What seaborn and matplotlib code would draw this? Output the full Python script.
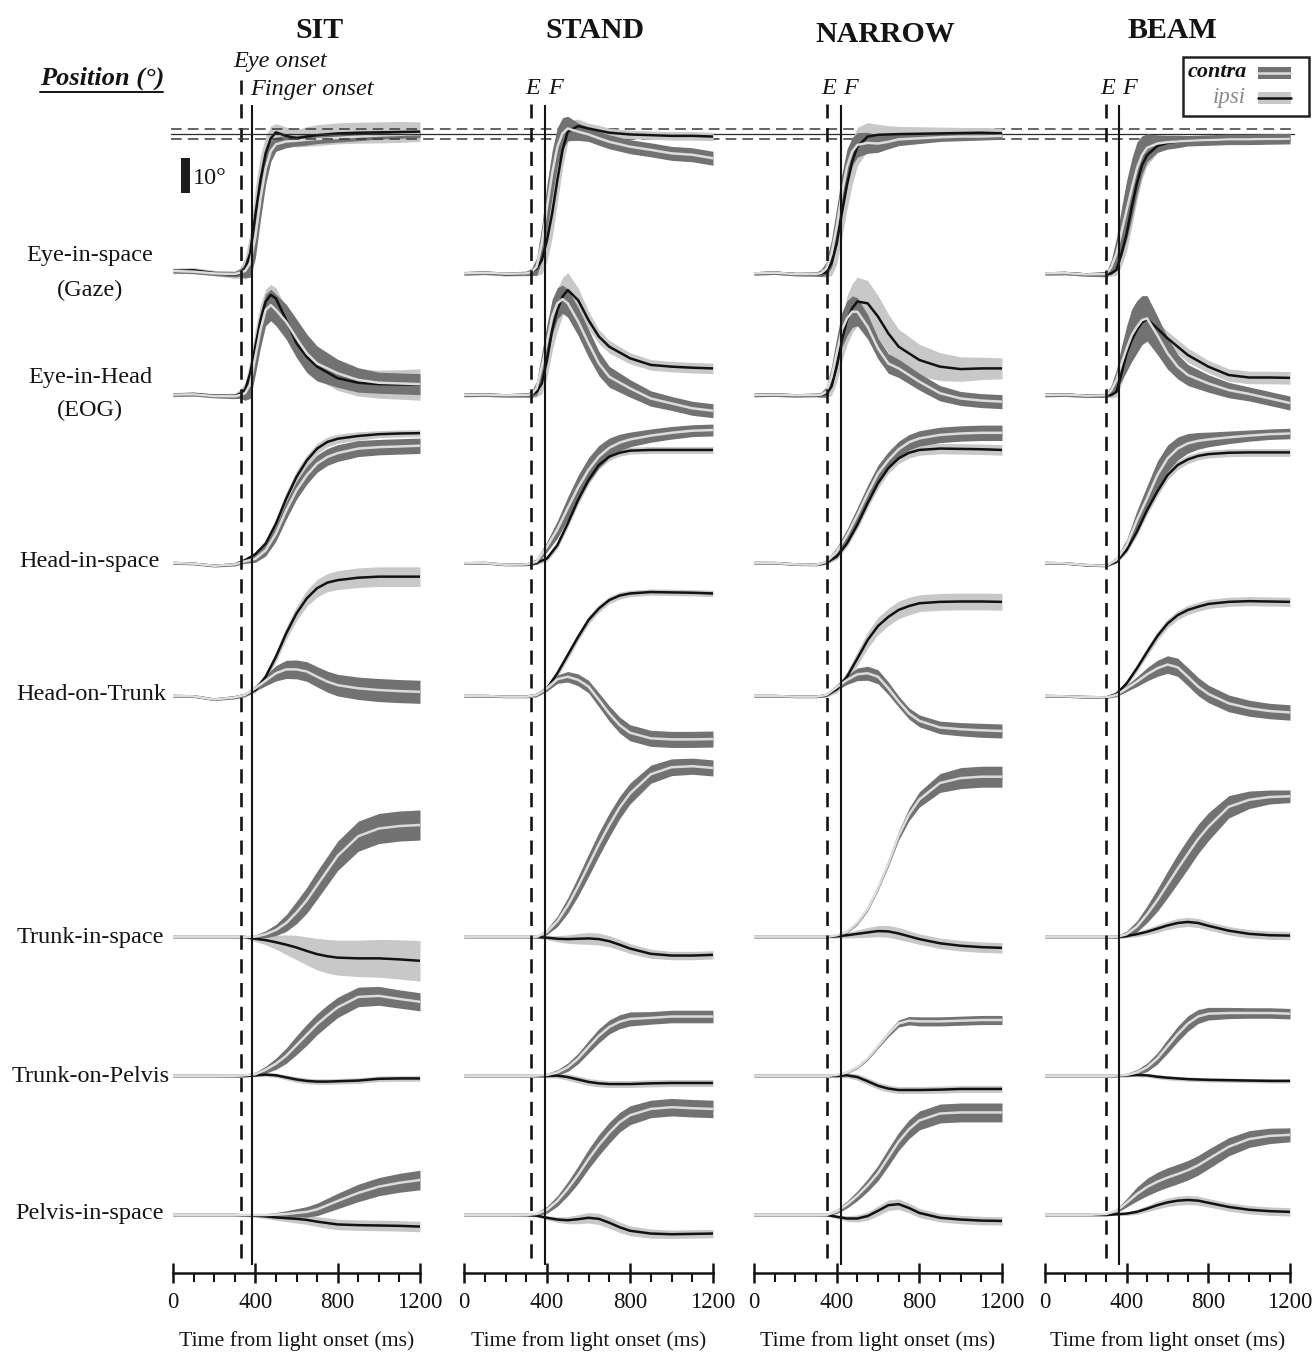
import numpy as np
import pandas as pd
import matplotlib
matplotlib.use("Agg")
import matplotlib.pyplot as plt
from matplotlib.patches import Rectangle
from matplotlib.lines import Line2D
import matplotlib.transforms as mtransforms
import seaborn as sns

# ---------------------------------------------------------------- data
COLUMNS = ["SIT", "STAND", "NARROW", "BEAM"]
ROW_NAMES = ["gaze", "eog", "head_space", "head_trunk",
             "trunk_space", "trunk_pelvis", "pelvis_space"]

# sample times (ms from light onset)
T_EYE = [0, 100, 200, 300, 325, 350, 375, 400, 425, 450, 475, 500,
         550, 600, 650, 700, 800, 900, 1000, 1100, 1200]
T_BODY = [0, 100, 200, 300, 350, 400, 450, 500, 550, 600, 650, 700,
          750, 800, 900, 1000, 1100, 1200]

EYE_ONSET = [330, 323, 355, 299]       # ms
FINGER_ONSET = [385, 390, 419, 364]    # ms
GAZE_TARGET = 39.5                     # deg
GAZE_TOLERANCE = 1.4                   # deg
SCALE_DEG = 10

# ---- SIT
SIT_GAZE_CONTRA = [0.3, 0.1, -0.4, -0.6, -0.2, 0.3, 2.5, 10.0, 21.0, 29.5, 34.5, 36.5, 37.3, 37.5, 37.8, 38.0, 38.3, 38.7, 39.0, 39.2, 39.4]
SIT_GAZE_CONTRA_SD = [0.6, 0.6, 0.6, 0.8, 1.0, 2.0, 4.0, 6.0, 6.0, 4.5, 3.0, 2.0, 1.8, 1.5, 1.5, 1.3, 1.2, 1.2, 1.0, 1.0, 1.0]
SIT_GAZE_IPSI = [0.3, 0.5, -0.3, -0.8, -0.3, 1.0, 5.3, 16.3, 26.3, 33.9, 38.2, 39.9, 38.9, 38.2, 38.7, 39.1, 39.6, 39.8, 39.9, 40.0, 40.1]
SIT_GAZE_IPSI_SD = [0.8, 0.8, 0.8, 1.0, 1.5, 3.0, 6.0, 8.0, 7.0, 5.0, 3.5, 2.5, 2.5, 2.5, 2.8, 3.0, 3.0, 3.0, 3.0, 3.0, 2.8]
SIT_EOG_CONTRA = [0.1, 0.2, -0.3, -0.4, 0.0, 0.5, 3.0, 10.9, 18.6, 24.3, 25.7, 24.3, 20.9, 16.2, 11.9, 9.0, 6.2, 4.3, 3.5, 3.3, 3.1]
SIT_EOG_CONTRA_SD = [0.5, 0.5, 0.5, 0.6, 1.0, 2.0, 4.0, 5.0, 5.0, 4.5, 4.5, 4.5, 5.0, 5.5, 5.5, 5.0, 4.0, 3.5, 3.0, 3.0, 3.0]
SIT_EOG_IPSI = [0.1, 0.3, -0.2, -0.3, 0.3, 1.4, 6.2, 13.8, 21.4, 26.7, 28.6, 27.6, 21.4, 14.8, 10.9, 8.1, 4.8, 3.5, 3.1, 3.0, 3.0]
SIT_EOG_IPSI_SD = [0.6, 0.6, 0.6, 0.8, 1.2, 2.0, 4.0, 5.0, 4.5, 3.5, 3.0, 3.0, 3.5, 3.5, 3.5, 3.5, 3.5, 3.8, 4.0, 4.2, 4.5]
SIT_HEAD_SPACE_CONTRA = [0.0, -0.2, -0.8, -0.4, 0.5, 1.2, 3.6, 8.4, 15.0, 20.8, 25.1, 28.4, 30.3, 31.4, 32.7, 33.1, 33.3, 33.5]
SIT_HEAD_SPACE_CONTRA_SD = [0.3, 0.3, 0.3, 0.4, 0.6, 1.0, 1.6, 2.2, 2.5, 2.6, 2.6, 2.5, 2.4, 2.4, 2.3, 2.2, 2.2, 2.2]
SIT_HEAD_SPACE_IPSI = [0.0, -0.2, -0.8, -0.4, 0.8, 2.5, 5.5, 11.2, 18.4, 24.6, 29.3, 32.7, 34.6, 35.5, 36.3, 36.8, 37.0, 37.1]
SIT_HEAD_SPACE_IPSI_SD = [0.4, 0.4, 0.4, 0.5, 0.6, 0.8, 1.2, 1.5, 1.8, 1.8, 1.6, 1.5, 1.4, 1.3, 1.2, 1.0, 1.0, 1.0]
SIT_HEAD_TRUNK_CONTRA = [0.0, -0.1, -1.0, -0.4, 0.3, 2.2, 4.4, 6.5, 7.6, 7.6, 7.0, 5.5, 4.1, 3.1, 2.2, 1.7, 1.4, 1.2]
SIT_HEAD_TRUNK_CONTRA_SD = [0.3, 0.3, 0.3, 0.4, 0.5, 0.8, 1.5, 2.2, 2.6, 2.7, 2.8, 2.9, 3.0, 3.1, 3.2, 3.3, 3.3, 3.3]
SIT_HEAD_TRUNK_IPSI = [0.0, -0.1, -1.0, -0.4, 0.3, 1.7, 5.5, 11.2, 17.9, 23.6, 27.9, 30.8, 32.4, 33.1, 33.8, 34.1, 34.1, 34.1]
SIT_HEAD_TRUNK_IPSI_SD = [0.3, 0.3, 0.3, 0.4, 0.5, 0.7, 1.0, 1.4, 1.8, 2.1, 2.3, 2.5, 2.6, 2.7, 2.8, 2.8, 2.8, 2.8]
SIT_TRUNK_SPACE_CONTRA = [0.0, 0.0, 0.0, 0.0, 0.0, 0.1, 0.8, 2.0, 4.0, 7.0, 10.5, 14.8, 19.0, 23.2, 28.8, 31.0, 31.7, 32.0]
SIT_TRUNK_SPACE_CONTRA_SD = [0.2, 0.2, 0.2, 0.2, 0.3, 0.5, 1.0, 1.6, 2.4, 3.2, 3.7, 4.0, 4.1, 4.2, 4.3, 4.3, 4.3, 4.3]
SIT_TRUNK_SPACE_IPSI = [0.0, 0.0, 0.0, 0.0, 0.0, -0.5, -0.9, -1.5, -2.2, -3.0, -4.0, -4.9, -5.5, -5.9, -6.1, -6.1, -6.4, -6.8]
SIT_TRUNK_SPACE_IPSI_SD = [0.3, 0.3, 0.3, 0.3, 0.4, 0.8, 1.3, 2.0, 2.8, 3.5, 4.0, 4.5, 4.8, 5.0, 5.2, 5.4, 5.6, 5.8]
SIT_TRUNK_PELVIS_CONTRA = [0.0, 0.0, 0.0, 0.0, 0.2, 0.5, 1.8, 3.5, 5.8, 8.8, 11.8, 14.8, 17.3, 19.6, 22.6, 22.9, 22.0, 21.2]
SIT_TRUNK_PELVIS_CONTRA_SD = [0.2, 0.2, 0.2, 0.3, 0.4, 0.6, 1.0, 1.6, 2.2, 2.7, 3.0, 3.0, 3.0, 2.9, 2.8, 2.7, 2.6, 2.6]
SIT_TRUNK_PELVIS_IPSI = [0.0, 0.0, 0.0, 0.0, 0.0, 0.2, 0.4, 0.2, -0.4, -1.0, -1.4, -1.6, -1.6, -1.5, -1.3, -0.8, -0.7, -0.7]
SIT_TRUNK_PELVIS_IPSI_SD = [0.3, 0.3, 0.3, 0.3, 0.3, 0.4, 0.5, 0.6, 0.7, 0.8, 0.8, 0.8, 0.8, 0.8, 0.8, 0.8, 0.8, 0.8]
SIT_PELVIS_SPACE_CONTRA = [0.0, 0.0, 0.0, 0.0, 0.0, 0.0, 0.0, 0.1, 0.3, 0.6, 0.9, 1.6, 2.8, 4.0, 6.3, 8.1, 9.2, 10.0]
SIT_PELVIS_SPACE_CONTRA_SD = [0.2, 0.2, 0.2, 0.2, 0.2, 0.3, 0.4, 0.6, 0.9, 1.2, 1.5, 1.8, 2.0, 2.2, 2.5, 2.6, 2.7, 2.8]
SIT_PELVIS_SPACE_IPSI = [0.0, 0.0, 0.0, 0.0, -0.1, -0.2, -0.4, -0.7, -0.9, -1.1, -1.4, -1.9, -2.3, -2.7, -2.9, -3.0, -3.1, -3.3]
SIT_PELVIS_SPACE_IPSI_SD = [0.3, 0.3, 0.3, 0.3, 0.3, 0.4, 0.6, 0.8, 1.0, 1.2, 1.3, 1.4, 1.5, 1.5, 1.5, 1.5, 1.5, 1.5]

# ---- STAND
STAND_GAZE_CONTRA = [-0.4, -0.2, -0.5, -0.4, 0.0, 1.5, 8.2, 18.6, 28.2, 35.8, 39.6, 41.0, 40.1, 39.3, 38.2, 37.2, 35.8, 34.9, 33.9, 33.5, 32.5]
STAND_GAZE_CONTRA_SD = [0.5, 0.5, 0.5, 0.6, 1.0, 2.5, 5.0, 6.5, 6.5, 5.5, 4.5, 3.5, 2.5, 2.0, 2.0, 2.0, 2.0, 2.0, 2.0, 2.0, 2.0]
STAND_GAZE_IPSI = [-0.4, -0.2, -0.6, -0.4, 0.1, 1.0, 3.4, 9.1, 16.8, 26.3, 34.9, 40.1, 41.7, 41.0, 40.4, 39.8, 39.3, 39.1, 38.9, 38.9, 38.7]
STAND_GAZE_IPSI_SD = [0.6, 0.6, 0.6, 0.7, 1.0, 2.0, 4.0, 6.0, 7.0, 6.5, 5.0, 3.0, 2.0, 1.5, 1.5, 1.3, 1.2, 1.2, 1.2, 1.2, 1.2]
STAND_EOG_CONTRA = [0.0, 0.1, -0.1, 0.0, 0.2, 1.9, 8.1, 15.2, 22.4, 26.2, 27.4, 26.2, 21.0, 14.8, 9.0, 5.2, 1.9, -1.0, -2.4, -3.8, -4.5]
STAND_EOG_CONTRA_SD = [0.5, 0.5, 0.5, 0.6, 0.8, 2.0, 4.0, 5.0, 5.0, 4.5, 4.0, 4.0, 4.0, 4.0, 3.5, 3.0, 2.5, 2.2, 2.0, 2.0, 2.0]
STAND_EOG_IPSI = [0.0, 0.1, -0.1, 0.0, 0.1, 0.9, 3.3, 10.0, 18.6, 24.3, 28.1, 30.0, 27.1, 21.4, 16.7, 13.8, 10.5, 8.6, 8.1, 7.8, 7.6]
STAND_EOG_IPSI_SD = [0.5, 0.5, 0.5, 0.6, 0.8, 1.5, 3.0, 5.0, 6.0, 6.0, 5.5, 5.0, 3.5, 2.5, 2.0, 1.8, 1.6, 1.5, 1.5, 1.5, 1.5]
STAND_HEAD_SPACE_CONTRA = [-0.1, 0.0, -0.5, -0.4, 0.4, 4.7, 9.6, 15.7, 21.6, 26.6, 30.4, 32.9, 34.4, 35.3, 36.4, 37.2, 37.8, 38.0]
STAND_HEAD_SPACE_CONTRA_SD = [0.3, 0.3, 0.3, 0.4, 0.8, 1.5, 2.5, 3.2, 3.5, 3.5, 3.2, 2.8, 2.4, 2.1, 1.9, 1.8, 1.7, 1.7]
STAND_HEAD_SPACE_IPSI = [-0.1, 0.0, -0.5, -0.4, 0.0, 1.3, 5.1, 11.3, 18.0, 23.7, 28.0, 30.4, 31.5, 32.1, 32.3, 32.3, 32.3, 32.3]
STAND_HEAD_SPACE_IPSI_SD = [0.3, 0.3, 0.3, 0.3, 0.5, 0.8, 1.0, 1.2, 1.3, 1.3, 1.2, 1.1, 1.0, 1.0, 1.0, 1.0, 1.0, 1.0]
STAND_HEAD_TRUNK_CONTRA = [0.0, 0.0, -0.2, -0.2, 0.3, 2.2, 4.8, 5.5, 4.6, 2.7, -1.1, -5.0, -8.3, -10.5, -12.1, -12.4, -12.4, -12.3]
STAND_HEAD_TRUNK_CONTRA_SD = [0.3, 0.3, 0.3, 0.3, 0.5, 0.8, 1.2, 1.5, 1.7, 1.8, 2.0, 2.2, 2.3, 2.3, 2.3, 2.3, 2.3, 2.3]
STAND_HEAD_TRUNK_IPSI = [0.0, 0.0, -0.2, -0.2, 0.3, 2.2, 6.5, 11.7, 16.9, 21.7, 25.0, 27.4, 28.7, 29.3, 29.7, 29.6, 29.5, 29.3]
STAND_HEAD_TRUNK_IPSI_SD = [0.3, 0.3, 0.3, 0.3, 0.5, 0.8, 1.0, 1.2, 1.2, 1.2, 1.1, 1.0, 1.0, 0.9, 0.9, 0.9, 0.9, 0.9]
STAND_TRUNK_SPACE_CONTRA = [0.0, 0.0, 0.0, 0.0, 0.0, 1.5, 4.5, 9.0, 14.5, 20.5, 26.5, 32.0, 37.0, 41.0, 46.5, 48.5, 48.8, 48.3]
STAND_TRUNK_SPACE_CONTRA_SD = [0.2, 0.2, 0.2, 0.2, 0.4, 0.8, 1.5, 2.2, 2.8, 3.2, 3.4, 3.4, 3.2, 3.0, 2.6, 2.4, 2.3, 2.3]
STAND_TRUNK_SPACE_IPSI = [0.0, 0.0, 0.0, 0.0, 0.0, -0.2, -0.5, -0.6, -0.5, -0.4, -0.6, -1.2, -2.2, -3.3, -4.8, -5.3, -5.3, -5.1]
STAND_TRUNK_SPACE_IPSI_SD = [0.3, 0.3, 0.3, 0.3, 0.4, 0.6, 0.9, 1.2, 1.5, 1.7, 1.7, 1.6, 1.5, 1.4, 1.3, 1.2, 1.2, 1.2]
STAND_TRUNK_PELVIS_CONTRA = [0.0, 0.0, 0.0, 0.0, 0.1, 0.3, 1.0, 2.5, 5.0, 8.3, 11.5, 14.0, 15.5, 16.3, 16.6, 17.0, 17.0, 17.0]
STAND_TRUNK_PELVIS_CONTRA_SD = [0.2, 0.2, 0.2, 0.2, 0.3, 0.5, 0.8, 1.2, 1.5, 1.8, 2.0, 2.0, 2.0, 2.0, 1.8, 1.8, 1.8, 1.8]
STAND_TRUNK_PELVIS_IPSI = [0.0, 0.0, 0.0, 0.0, 0.0, 0.0, 0.1, -0.3, -1.0, -1.7, -2.1, -2.3, -2.3, -2.3, -2.1, -2.0, -2.0, -2.0]
STAND_TRUNK_PELVIS_IPSI_SD = [0.3, 0.3, 0.3, 0.3, 0.3, 0.5, 0.7, 0.9, 1.0, 1.0, 1.0, 1.0, 1.0, 1.0, 1.0, 1.0, 1.0, 1.0]
STAND_PELVIS_SPACE_CONTRA = [0.0, 0.0, 0.0, 0.0, 0.3, 1.5, 4.0, 7.5, 11.5, 16.0, 20.0, 23.5, 26.5, 28.5, 30.3, 30.8, 30.5, 30.3]
STAND_PELVIS_SPACE_CONTRA_SD = [0.2, 0.2, 0.2, 0.3, 0.5, 1.0, 1.5, 2.0, 2.5, 2.8, 3.0, 3.0, 2.8, 2.7, 2.5, 2.5, 2.5, 2.5]
STAND_PELVIS_SPACE_IPSI = [0.0, 0.0, 0.0, 0.0, -0.2, -0.8, -1.3, -1.5, -1.2, -0.8, -1.1, -2.2, -3.5, -4.5, -5.3, -5.5, -5.4, -5.3]
STAND_PELVIS_SPACE_IPSI_SD = [0.3, 0.3, 0.3, 0.3, 0.4, 0.6, 0.8, 1.0, 1.3, 1.5, 1.6, 1.6, 1.5, 1.4, 1.3, 1.2, 1.2, 1.2]

# ---- NARROW
NARROW_GAZE_CONTRA = [-0.4, -0.2, -0.6, -0.6, -0.3, 1.0, 5.3, 12.9, 22.4, 30.1, 34.4, 36.3, 36.9, 36.7, 37.2, 37.9, 38.2, 38.5, 38.7, 38.7, 38.9]
NARROW_GAZE_CONTRA_SD = [0.5, 0.5, 0.5, 0.6, 1.0, 2.0, 4.0, 5.5, 5.5, 5.0, 4.0, 3.5, 3.0, 2.5, 2.0, 1.8, 1.5, 1.2, 1.2, 1.0, 1.0]
NARROW_GAZE_IPSI = [-0.4, -0.2, -0.6, -0.6, -0.5, -0.1, 2.5, 8.1, 16.8, 24.9, 31.5, 35.8, 38.7, 39.2, 39.3, 39.4, 39.5, 39.6, 39.7, 39.8, 39.6]
NARROW_GAZE_IPSI_SD = [0.5, 0.5, 0.5, 0.6, 0.8, 1.5, 3.5, 6.0, 7.0, 7.0, 6.5, 5.5, 4.0, 3.0, 2.5, 2.2, 2.0, 1.8, 1.6, 1.5, 1.5]
NARROW_EOG_CONTRA = [0.0, 0.1, -0.1, 0.0, 0.1, 0.9, 5.2, 11.9, 18.6, 21.9, 23.8, 23.8, 19.5, 13.3, 9.0, 7.6, 3.8, 0.5, -1.0, -1.6, -1.9]
NARROW_EOG_CONTRA_SD = [0.5, 0.5, 0.5, 0.5, 0.7, 1.5, 3.0, 4.5, 5.0, 5.0, 4.5, 4.0, 3.5, 3.0, 2.8, 2.6, 2.4, 2.2, 2.0, 2.0, 2.0]
NARROW_EOG_IPSI = [0.0, 0.1, -0.1, 0.0, 0.0, 0.5, 2.4, 8.1, 15.7, 21.4, 24.8, 26.7, 26.2, 22.4, 17.6, 13.8, 10.0, 8.1, 7.4, 7.6, 7.6]
NARROW_EOG_IPSI_SD = [0.5, 0.5, 0.5, 0.5, 0.7, 1.2, 2.5, 4.5, 6.0, 7.0, 7.0, 7.0, 6.5, 6.0, 5.5, 5.0, 4.5, 4.0, 3.5, 3.2, 3.0]
NARROW_HEAD_SPACE_CONTRA = [0.0, 0.0, -0.4, -0.5, 0.3, 3.2, 7.9, 13.7, 19.9, 25.6, 29.4, 32.5, 34.5, 35.6, 36.6, 37.0, 37.2, 37.2]
NARROW_HEAD_SPACE_CONTRA_SD = [0.3, 0.3, 0.3, 0.3, 0.6, 1.2, 1.8, 2.2, 2.4, 2.4, 2.4, 2.3, 2.2, 2.2, 2.2, 2.2, 2.2, 2.2]
NARROW_HEAD_SPACE_IPSI = [0.0, 0.0, -0.4, -0.5, 0.1, 1.8, 5.6, 10.9, 17.1, 22.8, 27.1, 29.9, 31.5, 32.3, 32.7, 32.6, 32.5, 32.3]
NARROW_HEAD_SPACE_IPSI_SD = [0.3, 0.3, 0.3, 0.3, 0.5, 0.8, 1.0, 1.2, 1.4, 1.5, 1.5, 1.5, 1.5, 1.5, 1.5, 1.5, 1.5, 1.5]
NARROW_HEAD_TRUNK_CONTRA = [0.0, 0.0, -0.2, -0.2, 0.3, 2.5, 4.6, 6.2, 6.5, 5.5, 2.2, -1.6, -5.0, -7.1, -9.0, -9.5, -9.8, -10.0]
NARROW_HEAD_TRUNK_CONTRA_SD = [0.3, 0.3, 0.3, 0.3, 0.5, 0.8, 1.3, 1.8, 2.0, 2.0, 1.8, 1.6, 1.6, 1.7, 1.8, 1.9, 2.0, 2.0]
NARROW_HEAD_TRUNK_IPSI = [0.0, 0.0, -0.2, -0.2, 0.2, 1.9, 5.5, 10.7, 16.0, 20.0, 22.6, 24.6, 25.7, 26.5, 26.9, 27.0, 27.0, 26.9]
NARROW_HEAD_TRUNK_IPSI_SD = [0.3, 0.3, 0.3, 0.3, 0.5, 1.0, 1.5, 2.0, 2.3, 2.5, 2.5, 2.5, 2.5, 2.4, 2.4, 2.4, 2.4, 2.4]
NARROW_TRUNK_SPACE_CONTRA = [0.0, 0.0, 0.0, 0.0, 0.0, 0.5, 1.5, 4.0, 8.0, 14.0, 21.0, 29.0, 35.0, 39.3, 44.0, 45.4, 45.8, 45.8]
NARROW_TRUNK_SPACE_CONTRA_SD = [0.2, 0.2, 0.2, 0.2, 0.2, 0.3, 0.4, 0.5, 0.6, 0.7, 0.9, 1.3, 1.8, 2.2, 2.7, 3.0, 3.0, 3.0]
NARROW_TRUNK_SPACE_IPSI = [0.0, 0.0, 0.0, 0.0, 0.0, 0.2, 0.5, 0.9, 1.3, 1.7, 1.6, 1.0, 0.2, -0.6, -1.8, -2.5, -2.9, -3.1]
NARROW_TRUNK_SPACE_IPSI_SD = [0.3, 0.3, 0.3, 0.3, 0.3, 0.5, 0.8, 1.1, 1.4, 1.6, 1.7, 1.7, 1.6, 1.5, 1.5, 1.5, 1.5, 1.5]
NARROW_TRUNK_PELVIS_CONTRA = [0.0, 0.0, 0.0, 0.0, 0.0, 0.3, 1.0, 2.5, 5.0, 8.5, 12.0, 15.0, 15.8, 15.6, 15.6, 15.8, 16.0, 16.0]
NARROW_TRUNK_PELVIS_CONTRA_SD = [0.2, 0.2, 0.2, 0.2, 0.2, 0.3, 0.3, 0.4, 0.5, 0.6, 0.8, 1.0, 1.2, 1.3, 1.3, 1.3, 1.3, 1.3]
NARROW_TRUNK_PELVIS_IPSI = [0.0, 0.0, 0.0, 0.0, 0.0, 0.0, 0.2, -0.3, -1.5, -2.8, -3.6, -4.0, -4.0, -4.0, -3.9, -3.7, -3.7, -3.7]
NARROW_TRUNK_PELVIS_IPSI_SD = [0.3, 0.3, 0.3, 0.3, 0.3, 0.5, 0.7, 0.9, 1.0, 1.0, 1.0, 1.0, 1.0, 1.0, 1.0, 1.0, 1.0, 1.0]
NARROW_PELVIS_SPACE_CONTRA = [0.0, 0.0, 0.0, 0.0, 0.0, 1.0, 3.0, 5.5, 8.5, 12.0, 16.5, 21.0, 24.5, 27.0, 29.0, 29.3, 29.3, 29.3]
NARROW_PELVIS_SPACE_CONTRA_SD = [0.2, 0.2, 0.2, 0.2, 0.3, 0.6, 1.0, 1.4, 1.8, 2.2, 2.5, 2.6, 2.7, 2.7, 2.7, 2.7, 2.7, 2.7]
NARROW_PELVIS_SPACE_IPSI = [0.0, 0.0, 0.0, 0.0, 0.0, -0.5, -1.0, -1.0, -0.3, 1.2, 2.8, 3.1, 2.0, 0.6, -0.8, -1.3, -1.6, -1.7]
NARROW_PELVIS_SPACE_IPSI_SD = [0.3, 0.3, 0.3, 0.3, 0.3, 0.5, 0.8, 1.0, 1.2, 1.4, 1.5, 1.5, 1.4, 1.3, 1.2, 1.2, 1.2, 1.2]

# ---- BEAM
BEAM_GAZE_CONTRA = [-0.4, -0.3, -0.7, -0.6, 1.5, 5.3, 11.5, 17.7, 23.9, 29.6, 33.4, 35.5, 36.7, 37.1, 37.3, 37.5, 37.7, 37.9, 37.9, 38.0, 38.1]
BEAM_GAZE_CONTRA_SD = [0.5, 0.5, 0.5, 0.8, 2.0, 4.5, 7.0, 8.5, 8.5, 7.5, 5.5, 4.0, 2.5, 2.0, 1.8, 1.5, 1.5, 1.5, 1.5, 1.5, 1.5]
BEAM_GAZE_IPSI = [-0.4, -0.3, -0.7, -0.6, -0.4, 0.6, 5.3, 11.0, 18.6, 25.3, 30.5, 33.4, 36.0, 36.9, 37.3, 37.5, 37.7, 37.9, 37.9, 38.0, 38.2]
BEAM_GAZE_IPSI_SD = [0.5, 0.5, 0.5, 0.6, 0.8, 1.5, 3.5, 5.0, 5.5, 5.0, 4.0, 3.0, 2.0, 1.5, 1.3, 1.2, 1.2, 1.2, 1.2, 1.2, 1.2]
BEAM_EOG_CONTRA = [0.0, 0.1, -0.2, -0.1, 1.4, 4.3, 9.0, 13.3, 17.1, 19.5, 21.4, 21.9, 17.1, 11.9, 8.1, 5.7, 3.3, 1.4, 0.3, -1.0, -2.3]
BEAM_EOG_CONTRA_SD = [0.5, 0.5, 0.5, 0.6, 1.5, 3.0, 5.0, 6.5, 7.5, 7.5, 7.0, 6.5, 5.5, 4.5, 3.5, 3.0, 2.5, 2.2, 2.0, 2.0, 2.0]
BEAM_EOG_IPSI = [0.0, 0.1, -0.2, -0.1, 0.0, 0.9, 6.2, 11.9, 15.7, 18.6, 20.7, 21.7, 19.0, 16.2, 13.8, 11.4, 8.1, 5.7, 5.0, 5.0, 4.9]
BEAM_EOG_IPSI_SD = [0.5, 0.5, 0.5, 0.6, 0.8, 1.5, 3.0, 4.0, 4.0, 3.5, 3.0, 2.5, 2.0, 2.0, 2.0, 2.0, 1.8, 1.8, 1.8, 1.8, 1.8]
BEAM_HEAD_SPACE_CONTRA = [0.0, -0.1, -0.6, -0.8, 0.9, 5.1, 12.2, 18.5, 25.1, 29.9, 32.7, 34.2, 34.9, 35.3, 35.9, 36.4, 36.8, 37.0]
BEAM_HEAD_SPACE_CONTRA_SD = [0.3, 0.3, 0.3, 0.3, 0.8, 1.6, 2.8, 3.6, 4.0, 3.8, 3.3, 2.8, 2.4, 2.1, 1.8, 1.6, 1.5, 1.5]
BEAM_HEAD_SPACE_IPSI = [0.0, -0.1, -0.6, -0.8, 0.4, 3.7, 8.9, 15.1, 20.4, 25.1, 28.0, 29.6, 30.6, 31.1, 31.5, 31.6, 31.6, 31.6]
BEAM_HEAD_SPACE_IPSI_SD = [0.3, 0.3, 0.3, 0.3, 0.5, 0.8, 1.1, 1.3, 1.4, 1.4, 1.3, 1.2, 1.1, 1.1, 1.1, 1.1, 1.1, 1.1]
BEAM_HEAD_TRUNK_CONTRA = [0.0, -0.1, -0.3, -0.4, 0.3, 2.2, 4.1, 6.2, 7.9, 9.0, 8.2, 5.5, 2.7, 0.6, -2.1, -3.5, -4.3, -4.7]
BEAM_HEAD_TRUNK_CONTRA_SD = [0.3, 0.3, 0.3, 0.3, 0.5, 0.9, 1.4, 1.9, 2.3, 2.5, 2.6, 2.6, 2.6, 2.5, 2.4, 2.3, 2.2, 2.2]
BEAM_HEAD_TRUNK_IPSI = [0.0, -0.1, -0.3, -0.4, 0.6, 3.6, 7.9, 12.6, 17.1, 20.7, 23.1, 24.6, 25.5, 26.3, 26.9, 27.1, 27.0, 26.9]
BEAM_HEAD_TRUNK_IPSI_SD = [0.3, 0.3, 0.3, 0.3, 0.5, 0.8, 1.0, 1.2, 1.3, 1.3, 1.3, 1.3, 1.3, 1.3, 1.3, 1.3, 1.3, 1.3]
BEAM_TRUNK_SPACE_CONTRA = [0.0, 0.0, 0.0, 0.0, 0.0, 0.8, 3.0, 6.5, 10.5, 15.0, 19.5, 23.8, 28.0, 31.5, 37.2, 39.2, 40.0, 40.2]
BEAM_TRUNK_SPACE_CONTRA_SD = [0.2, 0.2, 0.2, 0.2, 0.4, 0.9, 1.6, 2.4, 3.2, 3.8, 4.2, 4.3, 4.2, 4.0, 3.2, 2.5, 2.0, 1.8]
BEAM_TRUNK_SPACE_IPSI = [0.0, 0.0, 0.0, 0.0, 0.0, 0.3, 0.8, 1.5, 2.4, 3.3, 4.0, 4.3, 4.0, 3.2, 1.8, 0.9, 0.5, 0.4]
BEAM_TRUNK_SPACE_IPSI_SD = [0.3, 0.3, 0.3, 0.3, 0.3, 0.5, 0.7, 0.9, 1.1, 1.2, 1.3, 1.3, 1.3, 1.2, 1.2, 1.2, 1.2, 1.2]
BEAM_TRUNK_PELVIS_CONTRA = [0.0, 0.0, 0.0, 0.0, 0.1, 0.3, 1.0, 2.5, 5.0, 8.5, 12.0, 15.0, 17.0, 17.8, 18.0, 18.0, 18.0, 17.8]
BEAM_TRUNK_PELVIS_CONTRA_SD = [0.2, 0.2, 0.2, 0.2, 0.3, 0.5, 0.8, 1.2, 1.6, 2.0, 2.2, 2.2, 2.0, 1.8, 1.6, 1.5, 1.5, 1.5]
BEAM_TRUNK_PELVIS_IPSI = [0.0, 0.0, 0.0, 0.0, 0.0, 0.2, 0.3, 0.2, -0.2, -0.5, -0.7, -0.9, -1.0, -1.1, -1.2, -1.3, -1.4, -1.4]
BEAM_TRUNK_PELVIS_IPSI_SD = [0.3, 0.3, 0.3, 0.3, 0.3, 0.4, 0.5, 0.5, 0.6, 0.6, 0.6, 0.6, 0.6, 0.6, 0.6, 0.6, 0.6, 0.6]
BEAM_PELVIS_SPACE_CONTRA = [0.0, 0.0, 0.0, 0.3, 1.2, 3.5, 6.0, 8.0, 9.5, 10.7, 11.7, 12.8, 14.2, 16.0, 19.5, 21.7, 22.6, 22.9]
BEAM_PELVIS_SPACE_CONTRA_SD = [0.2, 0.2, 0.2, 0.3, 0.6, 1.2, 2.0, 2.5, 2.7, 2.8, 2.8, 2.8, 2.8, 2.8, 2.6, 2.4, 2.2, 2.0]
BEAM_PELVIS_SPACE_IPSI = [0.0, 0.0, 0.0, 0.0, 0.2, 0.4, 0.9, 1.8, 2.8, 3.6, 4.1, 4.3, 4.1, 3.5, 2.3, 1.5, 1.1, 0.9]
BEAM_PELVIS_SPACE_IPSI_SD = [0.3, 0.3, 0.3, 0.3, 0.3, 0.5, 0.7, 0.9, 1.1, 1.2, 1.3, 1.3, 1.3, 1.2, 1.2, 1.2, 1.2, 1.2]

ROW_LABELS = [["Eye-in-space", "(Gaze)"], ["Eye-in-Head", "(EOG)"],
              ["Head-in-space"], ["Head-on-Trunk"], ["Trunk-in-space"],
              ["Trunk-on-Pelvis"], ["Pelvis-in-space"]]
MAJOR_TICKS = [0, 400, 800, 1200]
MINOR_TICKS = [100, 200, 300, 500, 600, 700, 900, 1000, 1100]

# lookup table of (contra mean, contra sd, ipsi mean, ipsi sd) per panel/row
_g = globals()
TRACES = {
    (col, row): tuple(_g[f"{col}_{row.upper()}_{side}"]
                      for side in ("CONTRA", "CONTRA_SD", "IPSI", "IPSI_SD"))
    for col in COLUMNS for row in ROW_NAMES
}

# ---------------------------------------------------------------- style
W, H = 1316, 1353
sns.set_theme(style="white")
plt.rcParams["font.family"] = ["Liberation Serif", "DejaVu Serif"]
plt.rcParams["axes.unicode_minus"] = False

CONTRA_BAND = "#727272"
CONTRA_LINE = "#dcdcdc"
IPSI_BAND = "#c8c8c8"
IPSI_LINE = "#121212"
INK = "#141414"
FS_LABEL = 17.5

AX_TOP, AX_BOTTOM = 60, 1273           # pixel rows of the panel area
PX_PER_DEG = 3.5
Y_MAX = (AX_BOTTOM - AX_TOP) / PX_PER_DEG
COL_PX = [(173, 420), (464, 713), (754, 1002), (1045, 1290)]
ROW_PX = [272, 395, 563, 696, 937, 1076, 1215]
ROW_BASE = [(AX_BOTTOM - p) / PX_PER_DEG for p in ROW_PX]


def fx(px):
    return px / W


def fy(py):
    return 1 - py / H


def deg_at(py):
    return (AX_BOTTOM - py) / PX_PER_DEG


def band(ax, t, mean, sd, base, color, z):
    m = np.asarray(mean, float) + base
    s = np.asarray(sd, float)
    ax.fill_between(t, m - s, m + s, color=color, linewidth=0, zorder=z)


def mean_line(ax, t, mean, base, color, z):
    df = pd.DataFrame({"t": t, "deg": np.asarray(mean, float) + base})
    sns.lineplot(data=df, x="t", y="deg", ax=ax, color=color, linewidth=1.8,
                 errorbar=None, legend=False, zorder=z)


fig = plt.figure(figsize=(W / 100, H / 100), dpi=100)

axes = []
for ci, col in enumerate(COLUMNS):
    x0, x1 = COL_PX[ci]
    ax = fig.add_axes([fx(x0), fy(AX_BOTTOM), (x1 - x0) / W,
                       (AX_BOTTOM - AX_TOP) / H])
    ax.patch.set_alpha(0)
    axes.append(ax)

    for ri, row in enumerate(ROW_NAMES):
        t = T_EYE if row in ("gaze", "eog") else T_BODY
        c_m, c_sd, i_m, i_sd = TRACES[(col, row)]
        base = ROW_BASE[ri]
        band(ax, t, i_m, i_sd, base, IPSI_BAND, 2)
        band(ax, t, c_m, c_sd, base, CONTRA_BAND, 3)
        mean_line(ax, t, i_m, base, IPSI_LINE, 4)
        mean_line(ax, t, c_m, base, CONTRA_LINE, 5)

    # eye onset (dashed) and finger onset (solid)
    top_dash = deg_at(79 if ci == 0 else 104)
    ax.vlines(EYE_ONSET[ci], deg_at(1258), top_dash, colors=INK,
              linewidth=1.9, linestyles=(0, (5.4, 3.6)), zorder=6)
    ax.vlines(FINGER_ONSET[ci], deg_at(1265), deg_at(105), colors=INK,
              linewidth=1.5, zorder=6)

    ax.set_xlim(0, 1200)
    ax.set_ylim(0, Y_MAX)
    for side in ("left", "right", "top"):
        ax.spines[side].set_visible(False)
    ax.spines["bottom"].set_linewidth(1.8)
    ax.spines["bottom"].set_color(INK)
    ax.set_yticks([])
    ax.set_xticks(MAJOR_TICKS)
    ax.set_xticks(MINOR_TICKS, minor=True)
    ax.set_xticklabels([str(v) for v in MAJOR_TICKS])
    ax.tick_params(axis="x", which="major", bottom=True, direction="inout",
                   length=14, width=1.8, color=INK, labelsize=16.5, pad=6.5,
                   labelcolor=INK)
    ax.tick_params(axis="x", which="minor", bottom=True, direction="out",
                   length=6.5, width=1.5, color=INK)
    ax.set_xlabel("Time from light onset (ms)", fontsize=15.7, color=INK,
                  labelpad=13)
    ax.set_ylabel("")

# gaze target line with tolerance, spanning all panels
blend = mtransforms.blended_transform_factory(fig.transFigure,
                                              axes[0].transData)
gbase = ROW_BASE[0]
axes[0].plot([fx(171), fx(1294)], [gbase + GAZE_TARGET] * 2,
             transform=blend, color="#2a2a2a", lw=0.9, clip_on=False,
             zorder=7)
for sgn in (-1, 1):
    axes[0].plot([fx(171), fx(1294)],
                 [gbase + GAZE_TARGET + sgn * GAZE_TOLERANCE] * 2,
                 transform=blend, color="#3a3a3a", lw=1.1,
                 dashes=(7, 4), clip_on=False, zorder=7)

# scale bar
axes[0].add_patch(Rectangle((39, deg_at(192.5)), 44, SCALE_DEG,
                            color="#1c1c1c", lw=0, zorder=8))
fig.text(fx(193), fy(178), "10°", ha="left", va="center", fontsize=FS_LABEL,
         color=INK)

# column titles
TITLE_PX = [(319, 31), (595, 31), (885, 34), (1172, 31)]
for name, (px, py) in zip(COLUMNS, TITLE_PX):
    fig.text(fx(px), fy(py), name, ha="center", va="center", fontsize=21.5,
             fontweight="bold", color=INK)


# onset annotations
def onset_px(ci, t):
    x0, x1 = COL_PX[ci]
    return x0 + t * (x1 - x0) / 1200


fig.text(fx(onset_px(0, EYE_ONSET[0]) - 8), fy(61), "Eye onset",
         ha="left", va="center", fontsize=FS_LABEL, style="italic", color=INK)
fig.text(fx(onset_px(0, FINGER_ONSET[0]) - 2), fy(89), "Finger onset",
         ha="left", va="center", fontsize=FS_LABEL, style="italic", color=INK)
for ci in (1, 2, 3):
    fig.text(fx(onset_px(ci, EYE_ONSET[ci]) + 1.5), fy(89), "E",
             ha="center", va="center", fontsize=FS_LABEL, style="italic",
             color=INK)
    fig.text(fx(onset_px(ci, FINGER_ONSET[ci]) + 3), fy(89), "F",
             ha="left", va="center", fontsize=FS_LABEL, style="italic",
             color=INK)

# y-axis caption
fig.text(fx(40), fy(78), "Position (°)", ha="left", va="center",
         fontsize=19, fontweight="bold", style="italic", color=INK)
fig.add_artist(Line2D([fx(40), fx(163)], [fy(92), fy(92)],
                      transform=fig.transFigure, color=INK, lw=1.4))

# row labels
ROW_LABEL_POS = [[(90, 256, "center"), (90, 290, "center")],
                 [(90, 378, "center"), (90, 410, "center")],
                 [(160, 562, "right")], [(166, 695, "right")],
                 [(164, 937, "right")], [(170, 1077, "right")],
                 [(164, 1214, "right")]]
for lines, places in zip(ROW_LABELS, ROW_LABEL_POS):
    for text, (px, py, ha) in zip(lines, places):
        fig.text(fx(px), fy(py), text, ha=ha, va="center",
                 fontsize=FS_LABEL, color=INK)

# legend
fig.add_artist(Rectangle((fx(1183), fy(116)), (1309 - 1183) / W,
                         (116 - 57) / H, transform=fig.transFigure,
                         fill=False, lw=1.8, ec="#222222"))
fig.text(fx(1247), fy(72), "contra", ha="right", va="center", fontsize=16,
         fontweight="bold", style="italic", color=INK)
fig.text(fx(1246), fy(98), "ipsi", ha="right", va="center", fontsize=16.5,
         style="italic", color="#8a8a8a")
fig.add_artist(Rectangle((fx(1258), fy(79)), 33 / W, 12 / H,
                         transform=fig.transFigure, color=CONTRA_BAND, lw=0))
fig.add_artist(Line2D([fx(1258), fx(1291)], [fy(73), fy(73)],
                      transform=fig.transFigure, color=CONTRA_LINE, lw=1.8))
fig.add_artist(Rectangle((fx(1258), fy(104)), 33 / W, 12 / H,
                         transform=fig.transFigure, color=IPSI_BAND, lw=0))
fig.add_artist(Line2D([fx(1258), fx(1291)], [fy(98), fy(98)],
                      transform=fig.transFigure, color=IPSI_LINE, lw=1.8))

fig.savefig("out.png", dpi=100)
